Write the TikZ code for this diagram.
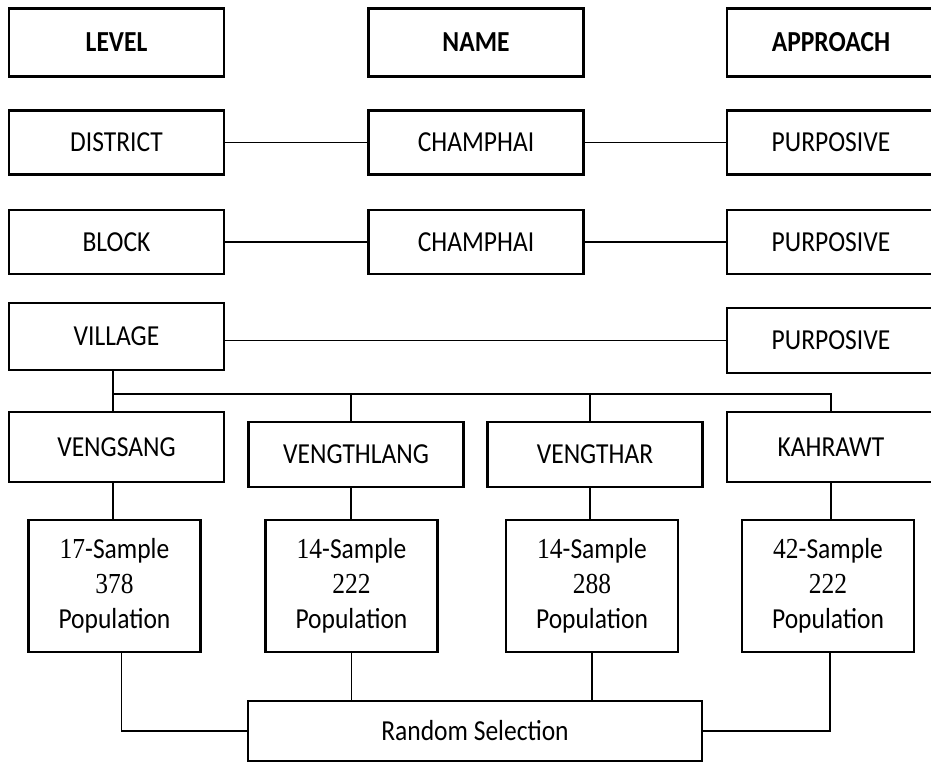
\documentclass[tikz,border=0pt]{standalone}
\usepackage{fontspec}
\setmainfont{Carlito}[FakeStretch=0.88]
\newfontfamily\numfont{Liberation Serif}[FakeStretch=0.88]
\usetikzlibrary{calc}

\begin{document}
\begin{tikzpicture}[
  x=1pt, y=-1pt,
  font=\fontsize{29}{35}\selectfont,
  box/.style={draw, line width=2.2pt, inner sep=0pt, align=center,
              minimum width=215pt, minimum height=64pt},
  head/.style={box, minimum height=68pt, font=\fontsize{29}{35}\selectfont\bfseries},
  sample/.style={box, minimum width=172pt, minimum height=132pt},
  link/.style={line width=1.6pt},
]
\useasboundingbox (0,0) rectangle (931,763);

% column heads
\node[head] (lev) at (116.5,42.5) {LEVEL};
\node[head] (nam) at (476,42.5) {NAME};
\node[head, minimum width=208pt] (app) at (831,42.5) {APPROACH};

% district and block
\node[box] (dist)   at (116.5,142.5) {DISTRICT};
\node[box] (cham1)  at (476,142.5)   {CHAMPHAI};
\node[box, minimum width=208pt] (purp1) at (831,142.5) {PURPOSIVE};
\node[box] (blk)    at (116.5,242)   {BLOCK};
\node[box] (cham2)  at (476,242)     {CHAMPHAI};
\node[box, minimum width=208pt] (purp2) at (831,242) {PURPOSIVE};

% village
\node[box, minimum height=67pt] (vil) at (116.5,336.5) {VILLAGE};
\node[box, minimum width=208pt, minimum height=65pt] (purp3) at (831,340.5) {PURPOSIVE};

% the four villages
\node[box, minimum height=70pt] (v1) at (116.5,447) {VENGSANG};
\node[box, minimum height=65pt] (v2) at (356,454.5) {VENGTHLANG};
\node[box, minimum height=65pt] (v3) at (595,454.5) {VENGTHAR};
\node[box, minimum width=208pt, minimum height=70pt] (v4) at (831,447) {KAHRAWT};

% samples
\node[sample] (s1) at (114.5,586) {{\numfont 17}-Sample\\{\numfont 378}\\Population};
\node[sample] (s2) at (351.5,586) {{\numfont 14}-Sample\\{\numfont 222}\\Population};
\node[sample] (s3) at (592,586)   {{\numfont 14}-Sample\\{\numfont 288}\\Population};
\node[sample] (s4) at (828,586)   {{\numfont 42}-Sample\\{\numfont 222}\\Population};

\node[box, minimum width=454pt, minimum height=60pt] (rand) at (475,731) {Random Selection};

\draw[link] (dist)--(cham1); \draw[link] (cham1)--(purp1);
\draw[link] (blk)--(cham2);  \draw[link] (cham2)--(purp2);
\draw[link] (purp3.west) -- (purp3.west -| vil.east);

\draw[link] ([xshift=-3.5pt]vil.south) -- ++(0,23) coordinate (bus);
\draw[link] (bus) -- ([xshift=-3.5pt]v1.north);
\draw[link] (bus) -| ([xshift=-5pt]v2.north);
\draw[link] (bus) -| ([xshift=-5pt]v3.north);
\draw[link] (bus) -| (v4.north);

\draw[link] ([xshift=-3.5pt]v1.south) -- ([xshift=-3.5pt]v1.south |- s1.north);
\draw[link] ([xshift=-5pt]v2.south) -- ([xshift=-5pt]v2.south |- s2.north);
\draw[link] ([xshift=-5pt]v3.south) -- ([xshift=-5pt]v3.south |- s3.north);
\draw[link] (v4.south) -- (v4.south |- s4.north);

\draw[link] ([xshift=7pt]s1.south) |- (rand.west);
\draw[link] (s2.south) -- (s2.south |- rand.north);
\draw[link] (s3.south) -- (s3.south |- rand.north);
\draw[link] ([xshift=2pt]s4.south) |- (rand.east);
\end{tikzpicture}
\end{document}
